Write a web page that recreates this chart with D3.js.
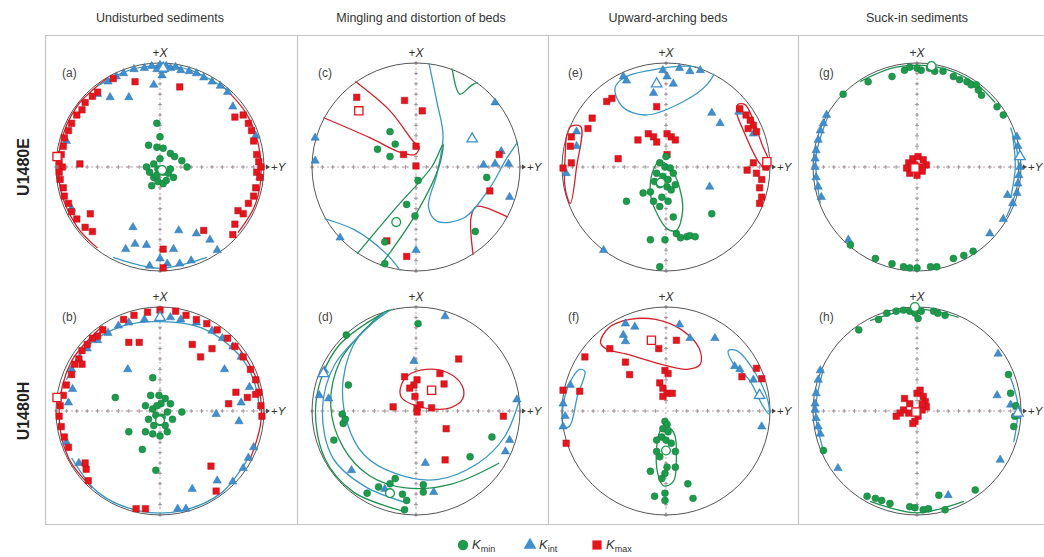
<!DOCTYPE html>
<html>
<head>
<meta charset="utf-8">
<script src="https://cdn.jsdelivr.net/npm/d3@7"></script>
<style>
  body { margin: 0; background: #fff; }
  svg { font-family: "Liberation Sans", Arial, sans-serif; }
</style>
</head>
<body>
<svg id="chart" width="1044" height="557"></svg>
<script>
// column / row labels
var colTitles = ["Undisturbed sediments", "Mingling and distortion of beds", "Upward-arching beds", "Suck-in sediments"];
var rowTitles = ["U1480E", "U1480H"];
var panelIds = ["a", "b", "c", "d", "e", "f", "g", "h"];

// points in net coordinates: [Y (right), X (up)], unit circle
var aKmin = [[-0.03,0.42],[0,0.29],[-0.11,0.21],[-0.03,0.19],[0.03,0.18],[0.1,0.13],[0.14,0.1],[-0.13,0],[-0.06,0.03],[-0.02,-0.02],[0.03,-0.05],[0.08,-0.06],[0.13,-0.1],[0.21,0.06],[0.26,0.0],[-0.06,-0.1],[-0.02,-0.14],[0.03,-0.16],[-0.08,-0.18],[0.06,-0.13],[-0.03,-0.08],[0.0,0.08],[-0.1,-0.05],[0.1,-0.02]];
var aKint = [[-0.5,0.82],[-0.42,0.87],[-0.35,0.9],[-0.25,0.94],[-0.15,0.95],[-0.08,0.97],[-0.03,0.94],[0.0,0.98],[0.03,0.93],[0.06,0.97],[0.1,0.95],[0.15,0.96],[0.2,0.93],[0.28,0.92],[0.35,0.9],[0.42,0.86],[0.5,0.82],[0.58,0.78],[0.65,0.72],[-0.48,0.67],[-0.3,0.67],[-0.06,0.79],[0.02,0.88],[0.7,0.58],[0.92,0.3],[0.96,-0.1],[-0.85,-0.4],[-0.26,-0.58],[-0.24,-0.74],[-0.33,-0.79],[-0.13,-0.75],[0.13,-0.79],[0.18,-0.61],[0.35,-0.64],[0.48,-0.7],[0.0,-0.88],[0.07,-0.93],[0.19,-0.93],[-0.1,-0.95],[0.3,-0.9],[0.55,-0.8],[-0.6,0.7],[-0.9,0.25]];
var aKmax = [[-0.6,0.72],[-0.65,0.68],[-0.72,0.62],[-0.75,0.55],[-0.8,0.5],[-0.85,0.42],[-0.88,0.35],[-0.92,0.28],[-0.93,0.2],[-0.95,0.12],[-0.97,0.05],[-0.94,0.0],[-0.97,-0.05],[-0.96,-0.12],[-0.93,-0.2],[-0.92,-0.28],[-0.88,-0.35],[-0.85,-0.43],[-0.8,-0.5],[-0.72,-0.58],[-0.77,0.03],[-0.67,-0.45],[-0.24,0.82],[0.19,0.77],[0.72,0.48],[0.8,0.5],[0.85,0.42],[0.88,0.35],[0.9,0.25],[0.93,0.12],[0.95,0.05],[0.97,0.0],[0.93,-0.05],[0.96,-0.1],[0.92,-0.2],[0.9,-0.28],[0.85,-0.35],[0.8,-0.45],[0.75,-0.42],[0.72,-0.55],[0.42,-0.61],[0.7,-0.65],[0.03,-0.79],[0.03,-0.97],[-0.45,0.85],[-0.65,-0.62]];
var aMeans = { kmin: [0.02,-0.03], kint: [0.03,0.95], kmax: [-0.99,0.1] };

var bKmin = [[-0.07,0.32],[-0.43,0.13],[-0.09,0.15],[-0.01,0.15],[0.05,0.12],[0.1,0.07],[-0.14,0.05],[-0.07,0.02],[-0.04,-0.04],[0.02,-0.06],[0.07,-0.01],[0.0,-0.11],[0.05,-0.14],[-0.14,-0.2],[-0.07,-0.22],[0,-0.24],[0.07,-0.2],[-0.3,-0.2],[-0.17,-0.37],[-0.04,-0.57],[0.21,-0.01],[0.01,0.07],[-0.11,-0.08],[-0.06,-0.14],[0.12,-0.08],[-0.03,0.05]];
var bKint = [[-0.85,0.4],[-0.78,0.5],[-0.7,0.6],[-0.6,0.68],[-0.5,0.75],[-0.4,0.82],[-0.3,0.85],[-0.15,0.88],[0.0,0.9],[0.1,0.9],[0.2,0.88],[0.35,0.85],[0.5,0.77],[0.6,0.7],[0.7,0.62],[0.78,0.52],[-0.31,0.4],[0.62,0.4],[0.54,-0.03],[0.76,-0.1],[0.78,0.08],[0.86,0.23],[0.55,-0.67],[0.31,-0.75],[0.17,-0.94],[0.25,-0.94],[-0.84,0.21],[-0.78,-0.5],[-0.9,-0.3],[0.9,-0.35],[0.8,-0.55],[0.7,-0.68],[-0.88,0.08],[0.85,-0.45]];
var bKmax = [[-0.55,0.78],[-0.6,0.72],[-0.65,0.7],[-0.7,0.64],[-0.75,0.58],[-0.78,0.5],[-0.82,0.45],[-0.85,0.35],[-0.9,0.25],[-0.93,0.15],[-0.96,0.05],[-0.97,-0.05],[-0.95,-0.15],[-0.92,-0.25],[-0.88,-0.35],[-0.72,-0.5],[-0.71,-0.56],[-0.69,-0.67],[-0.35,0.88],[-0.25,0.92],[-0.12,0.95],[0.0,0.97],[0.15,0.96],[0.25,0.92],[0.35,0.88],[0.45,0.84],[0.55,0.78],[0.65,0.7],[0.72,0.62],[0.8,0.52],[0.87,0.4],[0.92,0.3],[0.95,0.18],[0.97,0.05],[0.98,-0.05],[-0.3,0.66],[-0.2,0.66],[0.31,0.64],[0.39,0.52],[0.5,0.6],[0.73,0.18],[0.66,0.07],[0.84,0.13],[0.92,0.16],[0.49,-0.53],[0.54,-0.77],[-0.23,-0.94],[-0.14,-0.94],[-0.75,0.45]];
var bMeans = { kmin: [0.0,-0.09], kint: [0.0,0.9], kmax: [-0.99,0.13] };

var cKmin = [[-0.25,0.34],[-0.37,0.17],[-0.25,0.1],[-0.2,0.22],[0.02,-0.13],[-0.09,-0.36],[-0.01,-0.47],[0.57,-0.62],[0.68,-0.1],[-0.3,-0.93],[-0.3,-0.72]];
var cKint = [[-0.97,0.28],[-0.97,0.06],[0.76,0.62],[0.65,0.02],[0.89,0.03],[0.76,0.03],[0.9,-0.29],[-0.73,-0.68],[0.0,-0.8],[0.82,0.15]];
var cKmax = [[-0.57,0.67],[-0.11,0.64],[0.06,0.54],[0.0,0.2],[-0.12,0.12],[0.0,0.01],[0.8,0.12],[0.71,-0.23],[-0.28,-0.71],[-0.09,-0.86]];
var cMeans = { kmin: [-0.19,-0.53], kint: [0.54,0.27], kmax: [-0.55,0.54] };

var dKmin = [[0.02,0.84],[-0.67,0.73],[-0.65,0.25],[-0.71,-0.03],[-0.7,-0.12],[-0.68,-0.08],[-0.79,-0.28],[0.73,-0.25],[0.52,-0.44],[-0.25,-0.7],[-0.36,-0.73],[-0.47,-0.79],[-0.09,-0.86],[-0.11,-0.95],[0.07,-0.71],[0.07,-0.78],[-0.2,-0.65],[-0.13,-0.8]];
var dKint = [[0.28,0.91],[-0.02,0.48],[-0.88,0.39],[-0.84,0.12],[-0.62,-0.57],[0.09,-0.5],[0.17,-0.78],[0.97,0.11],[0.9,-0.28],[0.86,-0.39],[-0.93,0.15],[-0.3,-0.75]];
var dKmax = [[0.41,0.5],[-0.11,0.33],[0.01,0.3],[-0.02,0.25],[-0.06,0.22],[-0.01,0.14],[0.23,0.36],[0.27,0.26],[-0.22,0.04],[0.01,0.03],[0.15,0.03],[0.04,0.06],[0.29,-0.17],[0.84,-0.05],[0.28,-0.47],[0.01,-0.01]];
var dMeans = { kmin: [-0.25,-0.79], kint: [-0.89,0.36], kmax: [0.15,0.2] };

var eKmin = [[-0.06,0.04],[-0.01,0.0],[0.04,-0.01],[-0.09,-0.06],[-0.03,-0.09],[0.02,-0.12],[0.07,-0.06],[-0.11,-0.14],[-0.06,-0.17],[0.01,-0.19],[0.05,-0.22],[0.09,-0.17],[-0.15,-0.24],[-0.22,-0.25],[-0.04,-0.29],[0.02,-0.33],[-0.12,-0.33],[-0.06,-0.38],[0.07,-0.48],[0.1,-0.64],[0.14,-0.68],[0.2,-0.67],[0.23,-0.66],[0.28,-0.67],[-0.15,-0.7],[-0.01,-0.7],[-0.38,-0.33],[0.44,-0.45],[-0.06,-0.96],[0.0,0.1]];
var eKint = [[-0.41,0.87],[-0.38,0.83],[-0.03,0.93],[0.01,0.87],[0.13,0.95],[0.23,0.92],[0.33,0.93],[-0.12,0.71],[0.07,0.8],[0.44,0.52],[0.52,0.42],[0.7,0.53],[0.84,0.32],[0.42,-0.19],[-0.86,0.34],[-0.96,-0.06],[-0.86,0.2],[-0.6,-0.8]];
var eKmax = [[-0.57,0.63],[-0.52,0.66],[-0.71,0.47],[-0.75,0.37],[-0.91,0.29],[-0.92,0.2],[-0.91,0.04],[-0.99,-0.01],[-0.46,0.08],[-0.27,0.26],[-0.17,0.32],[-0.12,0.29],[-0.09,0.24],[0.01,0.32],[0.05,0.29],[0.09,0.26],[0.01,0.12],[-0.09,0.58],[0.71,0.56],[0.77,0.5],[0.81,0.45],[0.84,0.4],[0.79,0.37],[0.87,0.34],[0.84,0.04],[0.78,-0.03],[0.87,-0.06],[0.92,-0.12],[0.9,-0.2],[0.92,-0.29],[0.9,-0.35],[0.96,0.0]];
var eMeans = { kmin: [-0.05,-0.15], kint: [-0.09,0.8], kmax: [0.97,0.05] };

var fKmin = [[-0.01,-0.1],[0.01,-0.13],[-0.03,-0.17],[0.02,-0.2],[-0.04,-0.25],[0.0,-0.28],[-0.09,-0.28],[0.05,-0.31],[0.09,-0.39],[-0.09,-0.39],[-0.06,-0.44],[0.01,-0.54],[0.09,-0.54],[-0.01,-0.6],[-0.15,-0.58],[-0.04,-0.65],[0.21,-0.7],[-0.11,-0.82],[-0.01,-0.79],[-0.01,-0.86],[0.26,-0.84]];
var fKint = [[-0.39,0.84],[-0.3,0.81],[-0.41,0.73],[-0.39,0.67],[0.13,0.83],[0.23,0.7],[0.47,0.7],[0.66,0.43],[0.71,0.4],[0.84,0.3],[0.9,0.14],[0.92,-0.15],[-0.99,0.07],[-0.97,-0.05],[-0.92,0.25],[-0.99,-0.15]];
var fKmax = [[-0.54,0.6],[-0.78,0.52],[-0.39,0.47],[-0.35,0.35],[-0.07,0.6],[0.1,0.68],[-0.01,0.39],[0.02,0.36],[-0.06,0.27],[-0.03,0.22],[0.01,0.17],[0.06,0.17],[-0.03,0.14],[-0.83,0.19],[-0.99,0.2],[-0.96,-0.31],[0.87,0.41],[0.92,0.31],[0.73,0.33]];
var fMeans = { kmin: [0.0,-0.38], kint: [0.9,0.15], kmax: [-0.14,0.68] };

var gKmin = [[-0.71,0.7],[-0.47,0.82],[-0.24,0.87],[-0.12,0.93],[-0.07,0.96],[0.0,0.95],[0.04,0.93],[0.12,0.95],[0.17,0.92],[0.25,0.92],[0.35,0.87],[0.41,0.84],[0.48,0.82],[0.52,0.79],[0.59,0.74],[0.62,0.69],[0.57,0.79],[0.77,0.58],[0.83,0.5],[-0.64,-0.75],[-0.24,-0.93],[-0.13,-0.96],[-0.07,-0.97],[0.0,-0.97],[0.13,-0.96],[0.19,-0.96],[0.35,-0.88],[0.45,-0.85],[0.54,-0.81],[-0.4,-0.88]];
var gKint = [[-0.87,0.5],[-0.9,0.42],[-0.93,0.35],[-0.95,0.26],[-0.97,0.16],[-0.98,0.08],[-0.98,0.0],[-0.97,-0.1],[-0.95,-0.19],[-0.92,-0.29],[-0.66,-0.7],[0.96,0.29],[0.97,0.2],[0.99,0.1],[0.99,0.0],[0.98,-0.08],[0.97,-0.16],[0.96,-0.25],[0.92,-0.35],[0.7,-0.64],[0.83,-0.5],[0.87,-0.27]];
var gKmax = [[-0.08,0.04],[-0.04,0.08],[0.01,0.1],[0.06,0.07],[0.09,0.02],[0.05,-0.04],[0.0,-0.08],[-0.07,-0.06],[-0.1,-0.01],[-0.02,0.02],[0.05,0.0],[-0.05,0.0]];
var gMeans = { kmin: [0.14,0.97], kint: [0.99,0.1], kmax: [-0.02,-0.01] };

var hKmin = [[-0.56,0.78],[-0.37,0.88],[-0.29,0.94],[-0.2,0.96],[-0.13,0.97],[-0.07,0.96],[-0.02,0.94],[0.01,0.89],[0.04,0.96],[0.16,0.96],[0.2,0.94],[0.27,0.92],[-0.48,-0.82],[-0.4,-0.84],[-0.34,-0.86],[-0.26,-0.89],[-0.07,-0.92],[-0.02,-0.93],[0.06,-0.95],[0.11,-0.94],[0.21,-0.81],[0.27,-0.95],[0.56,-0.76],[0.88,0.35],[0.9,0.17],[0.94,-0.05],[0.93,-0.15],[-0.9,-0.38],[0.95,0.05]];
var hKint = [[-0.93,0.39],[-0.95,0.3],[-0.97,0.17],[-0.98,0.07],[-0.98,0.01],[-0.97,-0.07],[-0.95,-0.15],[-0.93,-0.22],[-0.76,-0.55],[0.78,0.55],[0.77,0.15],[0.9,0.06],[0.96,0.04],[0.96,-0.05],[0.8,-0.47],[0.3,-0.81]];
var hKmax = [[-0.12,0.12],[0.0,0.17],[0.03,0.2],[0.06,0.14],[0.08,0.09],[0.09,0.04],[0.05,0.01],[0.01,-0.05],[-0.02,-0.1],[-0.04,-0.12],[-0.08,-0.02],[-0.13,0.01],[-0.16,-0.02],[-0.2,-0.05],[-0.07,0.07],[0.05,0.07]];
var hMeans = { kmin: [-0.02,1.0], kint: [0.97,-0.02], kmax: [-0.01,-0.01] };

// confidence contours: [Y, X] vertices
var aCont = [
  { k: "kmax", closed: false, pts: [[-0.5,0.86],[-0.8,0.58],[-0.96,0.2],[-0.96,-0.2],[-0.8,-0.57],[-0.6,-0.78]] },
  { k: "kmax", closed: false, pts: [[0.6,0.78],[0.85,0.48],[0.97,0.05],[0.92,-0.35],[0.75,-0.63]] },
  { k: "kint", closed: false, pts: [[-0.6,0.78],[-0.3,0.93],[0.0,0.975],[0.3,0.93],[0.65,0.74]] },
  { k: "kint", closed: false, pts: [[-0.45,-0.87],[0.0,-0.975],[0.45,-0.87]] }
];
var bCont = [
  { k: "kmax", closed: false, pts: [[-0.55,0.82],[-0.85,0.48],[-0.97,0.0],[-0.88,-0.45],[-0.65,-0.74]] },
  { k: "kmax", closed: false, pts: [[0.72,0.66],[0.93,0.3],[0.97,-0.1],[0.86,-0.48]] },
  { k: "kint", closed: false, pts: [[-0.9,0.3],[-0.7,0.62],[-0.35,0.82],[0.0,0.86],[0.4,0.8],[0.75,0.55],[0.9,0.3],[0.96,0.0]] },
  { k: "kint", closed: false, pts: [[-0.85,-0.45],[-0.6,-0.78],[-0.2,-0.96],[0.2,-0.96],[0.6,-0.78],[0.85,-0.45]] }
];
var cCont = [
  { k: "kmax", closed: false, pts: [[-0.62,0.85],[-0.25,0.54],[-0.03,0.25],[0.03,0.19],[-0.01,0.12],[-0.15,0.14],[-0.44,0.28],[-0.95,0.5]] },
  { k: "kmax", closed: false, pts: [[0.88,-0.48],[0.58,-0.38],[0.53,-0.48],[0.55,-0.85]] },
  { k: "kint", closed: false, pts: [[0.12,1.02],[0.2,0.63],[0.26,0.3],[0.2,-0.07],[0.12,-0.38],[0.2,-0.52],[0.46,-0.49],[0.71,-0.2],[0.87,0.08],[1.02,0.3]] },
  { k: "kint", closed: false, pts: [[-1.02,-0.46],[-0.6,-0.6],[-0.28,-0.84],[-0.15,-1.0]] },
  { k: "kmin", closed: false, pts: [[0.34,1.0],[0.42,0.7],[0.54,0.79],[0.68,0.85]] },
  { k: "kmin", closed: false, pts: [[-0.62,-0.9],[-0.2,-0.4],[0.15,0.0],[0.26,0.22],[0.22,0.0],[0.0,-0.45],[-0.38,-1.0]] }
];
var dCont = [
  { k: "kmax", closed: true, pts: [[-0.15,0.22],[-0.08,0.34],[0.1,0.4],[0.3,0.37],[0.44,0.25],[0.45,0.12],[0.33,0.03],[0.15,0.02],[-0.05,0.07],[-0.14,0.13]] },
  { k: "kint", closed: false, pts: [[-0.2,1.0],[-0.55,0.72],[-0.7,0.3],[-0.66,-0.12],[-0.5,-0.42],[-0.2,-0.6],[0.2,-0.66],[0.6,-0.5],[0.85,-0.25],[1.0,0.12]] },
  { k: "kmin", closed: false, pts: [[-0.25,0.98],[-0.75,0.62],[-0.96,0.1],[-0.88,-0.45],[-0.6,-0.78],[-0.1,-0.97]] },
  { k: "kmin", closed: false, pts: [[-0.35,0.92],[-0.72,0.5],[-0.82,0.05],[-0.7,-0.35],[-0.45,-0.62],[-0.1,-0.74],[0.35,-0.7],[0.8,-0.5]] },
  { k: "kint", closed: false, pts: [[-0.3,0.95],[-0.78,0.45],[-0.9,0.0],[-0.8,-0.45],[-0.5,-0.72],[-0.1,-0.88]] }
];
var eCont = [
  { k: "kint", closed: true, pts: [[-0.49,0.76],[-0.4,0.86],[-0.15,0.93],[0.2,0.97],[0.46,0.92],[0.4,0.8],[0.15,0.62],[-0.2,0.5],[-0.42,0.58]] },
  { k: "kmin", closed: true, pts: [[-0.07,0.05],[0.04,0.0],[0.13,-0.2],[0.16,-0.42],[0.1,-0.61],[0.02,-0.6],[-0.1,-0.42],[-0.15,-0.25],[-0.13,-0.05]] },
  { k: "kmax", closed: true, pts: [[-0.93,0.38],[-0.82,0.39],[-0.86,0.0],[-0.92,-0.35],[-0.97,-0.2],[-0.97,0.1]] },
  { k: "kmax", closed: true, pts: [[0.69,0.6],[0.76,0.6],[0.93,0.2],[0.99,0.05],[0.97,-0.03],[0.89,0.05],[0.74,0.36],[0.68,0.52]] }
];
var fCont = [
  { k: "kmax", closed: true, pts: [[-0.63,0.66],[-0.55,0.8],[-0.35,0.88],[-0.1,0.88],[0.15,0.78],[0.32,0.6],[0.33,0.45],[0.2,0.4],[-0.05,0.45],[-0.35,0.54],[-0.58,0.6]] },
  { k: "kmin", closed: true, pts: [[0.0,-0.14],[0.08,-0.22],[0.1,-0.45],[0.07,-0.68],[-0.02,-0.72],[-0.08,-0.6],[-0.09,-0.35],[-0.06,-0.2]] },
  { k: "kint", closed: true, pts: [[-0.83,0.4],[-0.78,0.38],[-0.85,0.15],[-0.93,-0.15],[-0.99,-0.15],[-0.97,0.15],[-0.9,0.32]] },
  { k: "kint", closed: true, pts: [[0.6,0.58],[0.68,0.58],[0.85,0.38],[0.98,0.1],[0.99,-0.03],[0.93,0.05],[0.8,0.3],[0.65,0.45]] }
];
var gCont = [
  { k: "kint", closed: false, pts: [[0.9,0.38],[0.97,0.1],[0.96,-0.2],[0.86,-0.48]] },
  { k: "kint", closed: false, pts: [[0.92,0.3],[0.945,0.0],[0.9,-0.3]] },
  { k: "kint", closed: false, pts: [[-0.85,0.5],[-0.97,0.1],[-0.93,-0.35]] },
  { k: "kmin", closed: false, pts: [[-0.55,0.82],[-0.2,0.96],[0.2,0.96],[0.55,0.81],[0.75,0.62]] }
];
var hCont = [
  { k: "kint", closed: false, pts: [[0.9,0.32],[0.97,0.05],[0.93,-0.3]] },
  { k: "kint", closed: false, pts: [[-0.9,0.4],[-0.975,0.0],[-0.9,-0.38]] },
  { k: "kmin", closed: false, pts: [[-0.45,0.87],[0.0,0.98],[0.4,0.9]] },
  { k: "kmin", closed: false, pts: [[-0.45,-0.87],[0.0,-0.98],[0.45,-0.87]] }
];

var legendKeys = ["kmin", "kint", "kmax"];
var legendSubs = ["min", "int", "max"];

var svg = d3.select("#chart");
var colX = [160, 416, 666, 917];
var rowY = [167, 411];
var R = 104;

var fill = { kmin: "#1d9a4c", kint: "#3f8fcf", kmax: "#e5141d" };
var edge = { kmin: "#137a3a", kint: "#2f73ab", kmax: "#b9121a" };
var line = { kmin: "#1f9150", kint: "#3a98c4", kmax: "#d3202a" };
var shape = { kmin: d3.symbolCircle, kint: d3.symbolTriangle, kmax: d3.symbolSquare };
var size = { kmin: 38, kint: 30, kmax: 42 };

var panels = [
  { id: "a", c: 0, r: 0, kmin: aKmin, kint: aKint, kmax: aKmax, means: aMeans, cont: aCont },
  { id: "b", c: 0, r: 1, kmin: bKmin, kint: bKint, kmax: bKmax, means: bMeans, cont: bCont },
  { id: "c", c: 1, r: 0, kmin: cKmin, kint: cKint, kmax: cKmax, means: cMeans, cont: cCont },
  { id: "d", c: 1, r: 1, kmin: dKmin, kint: dKint, kmax: dKmax, means: dMeans, cont: dCont },
  { id: "e", c: 2, r: 0, kmin: eKmin, kint: eKint, kmax: eKmax, means: eMeans, cont: eCont },
  { id: "f", c: 2, r: 1, kmin: fKmin, kint: fKint, kmax: fKmax, means: fMeans, cont: fCont },
  { id: "g", c: 3, r: 0, kmin: gKmin, kint: gKint, kmax: gKmax, means: gMeans, cont: gCont },
  { id: "h", c: 3, r: 1, kmin: hKmin, kint: hKint, kmax: hKmax, means: hMeans, cont: hCont }
];

// frame
var frame = svg.append("g").attr("stroke", "#c4c4c4").attr("stroke-width", 1.2);
frame.append("line").attr("x1", 45).attr("x2", 1044).attr("y1", 35.5).attr("y2", 35.5);
frame.append("line").attr("x1", 45).attr("x2", 1044).attr("y1", 524.5).attr("y2", 524.5);
[45.5, 297.5, 548.5, 798.5].forEach(function(x) {
  frame.append("line").attr("x1", x).attr("x2", x).attr("y1", 35).attr("y2", 525);
});

svg.selectAll(".coltitle")
  .data(colTitles)
  .enter().append("text")
    .attr("class", "coltitle")
    .attr("x", function(d, i) { return colX[i] + [0, 5, 2, 0][i]; })
    .attr("y", 22)
    .attr("text-anchor", "middle")
    .attr("font-size", 12.5)
    .attr("fill", "#333")
    .text(function(d) { return d; });

svg.selectAll(".rowtitle")
  .data(rowTitles)
  .enter().append("text")
    .attr("class", "rowtitle")
    .attr("transform", function(d, i) { return "translate(29," + rowY[i] + ") rotate(-90)"; })
    .attr("text-anchor", "middle")
    .attr("font-size", 16)
    .attr("font-weight", "bold")
    .attr("fill", "#222")
    .text(function(d) { return d; });

var defs = svg.append("defs");
var ticks = d3.range(-10, 11).filter(function(t) { return t !== 0; }).map(function(t) { return t / 10; });

panels.forEach(function(p) {
  var cx = colX[p.c], cy = rowY[p.r];
  var x = d3.scaleLinear().domain([-1, 1]).range([cx - R, cx + R]);
  var y = d3.scaleLinear().domain([-1, 1]).range([cy + R, cy - R]);
  var g = svg.append("g").attr("class", "panel");

  defs.append("clipPath").attr("id", "clip-" + p.id)
    .append("circle").attr("cx", cx).attr("cy", cy).attr("r", R + 1);

  // axes
  g.append("line").attr("x1", x(-1)).attr("x2", x(1) + 3).attr("y1", y(0)).attr("y2", y(0))
    .attr("stroke", "#b9a5ad").attr("stroke-width", 1).attr("stroke-dasharray", "2,3");
  g.append("line").attr("x1", x(0)).attr("x2", x(0)).attr("y1", y(1)).attr("y2", y(-1))
    .attr("stroke", "#b9a5ad").attr("stroke-width", 1).attr("stroke-dasharray", "2,3");
  var tk = g.append("g").attr("stroke", "#9f8f96").attr("stroke-width", 0.9);
  ticks.forEach(function(t) {
    tk.append("path").attr("d", "M" + (x(t) - 2) + "," + y(0) + "h4M" + x(t) + "," + (y(0) - 2) + "v4");
    tk.append("path").attr("d", "M" + (x(0) - 2) + "," + y(t) + "h4M" + x(0) + "," + (y(t) - 2) + "v4");
  });
  g.append("path").attr("d", "M" + (x(1) + 6) + "," + y(0) + "l-4,-2.5v5z").attr("fill", "#444");

  g.append("circle").attr("cx", cx).attr("cy", cy).attr("r", R)
    .attr("fill", "none").attr("stroke", "#555").attr("stroke-width", 1);

  g.append("text").attr("x", x(0)).attr("y", y(1) - 6).attr("text-anchor", "middle")
    .attr("font-size", 12).attr("fill", "#333")
    .html('+<tspan font-style="italic">X</tspan>');
  g.append("text").attr("x", x(1) + 7).attr("y", y(0) + 4)
    .attr("font-size", 11.5).attr("fill", "#333")
    .html('+<tspan font-style="italic">Y</tspan>');
  g.append("text").attr("x", cx - 98).attr("y", cy - 90)
    .attr("font-size", 12).attr("fill", "#444")
    .text("(" + p.id + ")");

  // contours
  var cg = g.append("g").attr("clip-path", "url(#clip-" + p.id + ")");
  p.cont.forEach(function(c) {
    var ln = d3.line().x(function(d) { return x(d[0]); }).y(function(d) { return y(d[1]); })
      .curve(c.closed ? d3.curveCatmullRomClosed : d3.curveCatmullRom);
    cg.append("path").attr("d", ln(c.pts)).attr("fill", "none")
      .attr("stroke", line[c.k]).attr("stroke-width", 1.3);
  });

  ["kint", "kmax", "kmin"].forEach(function(k) {
    g.append("g").selectAll("path")
      .data(p[k])
      .enter().append("path")
        .attr("transform", function(d) { return "translate(" + x(d[0]) + "," + y(d[1]) + ")"; })
        .attr("d", d3.symbol().type(shape[k]).size(size[k]))
        .attr("fill", fill[k])
        .attr("stroke", edge[k])
        .attr("stroke-width", 0.5);
  });

  legendKeys.forEach(function(k) {
    var m = p.means[k];
    g.append("path")
      .attr("transform", "translate(" + x(m[0]) + "," + y(m[1]) + ")")
      .attr("d", d3.symbol().type(shape[k]).size(size[k] * 1.6))
      .attr("fill", "#fff")
      .attr("stroke", fill[k])
      .attr("stroke-width", 1.3);
  });
});

// legend
var legX = [463, 530, 597];
var lg = svg.append("g");
legendKeys.forEach(function(k, i) {
  lg.append("path")
    .attr("transform", "translate(" + legX[i] + ",545)")
    .attr("d", d3.symbol().type(shape[k]).size(k === "kint" ? 70 : 85))
    .attr("fill", fill[k]);
  lg.append("text").attr("x", legX[i] + 9).attr("y", 549)
    .attr("font-size", 13).attr("fill", "#333")
    .html('<tspan font-style="italic">K</tspan><tspan font-size="9" dy="3">' + legendSubs[i] + '</tspan>');
});
</script>
</body>
</html>
